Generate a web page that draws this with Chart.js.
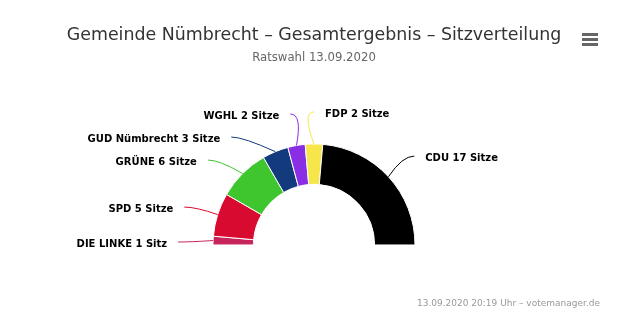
<!DOCTYPE html>
<html>
<head>
<meta charset="utf-8">
<script src="https://cdn.jsdelivr.net/npm/chart.js@4"></script>
<style>
  html, body { margin: 0; padding: 0; background: #fff; }
  #wrap { width: 628px; height: 335px; position: relative; }
</style>
</head>
<body>
<div id="wrap"><canvas id="seats"></canvas></div>
<script>
// Sitzverteilung Ratswahl Nümbrecht 2020
const parties = ["DIE LINKE", "SPD", "GRÜNE", "GUD Nümbrecht", "WGHL", "FDP", "CDU"];
const seats = [1, 5, 6, 3, 2, 2, 17];
const partyColors = ["#c8245c", "#d80a30", "#3fc52e", "#123a7c", "#8a2ee6", "#f7e64a", "#000000"];

const titleText = "Gemeinde Nümbrecht – Gesamtergebnis – Sitzverteilung";
const subtitleText = "Ratswahl 13.09.2020";
const creditText = "13.09.2020 20:19 Uhr – votemanager.de";

function seatLabel(i) {
    return parties[i] + " " + seats[i] + (seats[i] === 1 ? " Sitz" : " Sitze");
}

// outside labels with connectors (highcharts style)
const outsideLabels = {
    id: "outsideLabels",
    afterDatasetsDraw(chart) {
        const ctx = chart.ctx;
        const arcs = chart.getDatasetMeta(0).data;
        const distance = 35;
        const spacing = 23;
        const yShift = 3;
        const items = arcs.map((arc, i) => {
            const mid = (arc.startAngle + arc.endAngle) / 2;
            const R = arc.outerRadius + distance;
            return {
                i: i,
                arc: arc,
                mid: mid,
                R: R,
                right: Math.cos(mid) > -1e-6,
                nx: arc.x + Math.cos(mid) * R,
                ny: arc.y + Math.sin(mid) * R + yShift
            };
        });

        [true, false].forEach(side => {
            const list = items.filter(it => it.right === side).sort((a, b) => a.ny - b.ny);
            let prev = -Infinity;
            list.forEach(it => {
                it.y = Math.max(it.ny, prev + spacing);
                prev = it.y;
                if (it.y !== it.ny) {
                    const dy = it.y - it.arc.y;
                    const dx = Math.sqrt(Math.max(it.R * it.R - dy * dy, 0));
                    it.x = it.arc.x + (side ? dx : -dx);
                } else {
                    it.x = it.nx;
                }
            });
        });

        ctx.save();
        items.forEach(it => {
            const arc = it.arc;
            const px = arc.x + Math.cos(it.mid) * arc.outerRadius;
            const py = arc.y + Math.sin(it.mid) * arc.outerRadius;
            const dir = it.right ? 1 : -1;

            ctx.strokeStyle = partyColors[it.i];
            ctx.lineWidth = 1;
            ctx.beginPath();
            ctx.moveTo(it.x, it.y);
            ctx.quadraticCurveTo(it.x - dir * 12, it.y, px, py);
            ctx.stroke();

            ctx.fillStyle = "#000";
            ctx.font = "bold 10px 'DejaVu Sans'";
            ctx.textBaseline = "middle";
            ctx.textAlign = it.right ? "left" : "right";
            ctx.fillText(seatLabel(it.i), it.x + dir * 11, it.y + 2);
        });
        ctx.restore();
    }
};

// menu icon + credits
const extras = {
    id: "extras",
    afterDraw(chart) {
        const ctx = chart.ctx;
        ctx.save();
        ctx.fillStyle = "#666";
        [0, 5, 10].forEach(off => {
            ctx.fillRect(582, 33 + off, 16, 3);
        });
        ctx.fillStyle = "#999";
        ctx.font = "9px 'DejaVu Sans'";
        ctx.textAlign = "right";
        ctx.textBaseline = "middle";
        ctx.fillText(creditText, 600, 304);
        ctx.restore();
    }
};

new Chart(document.getElementById("seats"), {
    type: "doughnut",
    data: {
        labels: parties,
        datasets: [{
            data: seats,
            backgroundColor: partyColors,
            borderColor: "#ffffff",
            borderWidth: 1,
            radius: 101
        }]
    },
    options: {
        responsive: true,
        maintainAspectRatio: false,
        animation: false,
        rotation: -90,
        circumference: 180,
        cutout: "60%",
        layout: { padding: { top: 0, bottom: 11, left: 0, right: 0 } },
        plugins: {
            legend: { display: false },
            tooltip: { enabled: false },
            title: {
                display: true,
                text: titleText,
                color: "#333333",
                font: { family: "'DejaVu Sans'", size: 17.4, weight: "normal" },
                padding: { top: 25, bottom: 0 }
            },
            subtitle: {
                display: true,
                text: subtitleText,
                color: "#666666",
                font: { family: "'DejaVu Sans'", size: 11.7, weight: "normal" },
                padding: { top: 5, bottom: 0 }
            }
        }
    },
    plugins: [outsideLabels, extras]
});
</script>
</body>
</html>
